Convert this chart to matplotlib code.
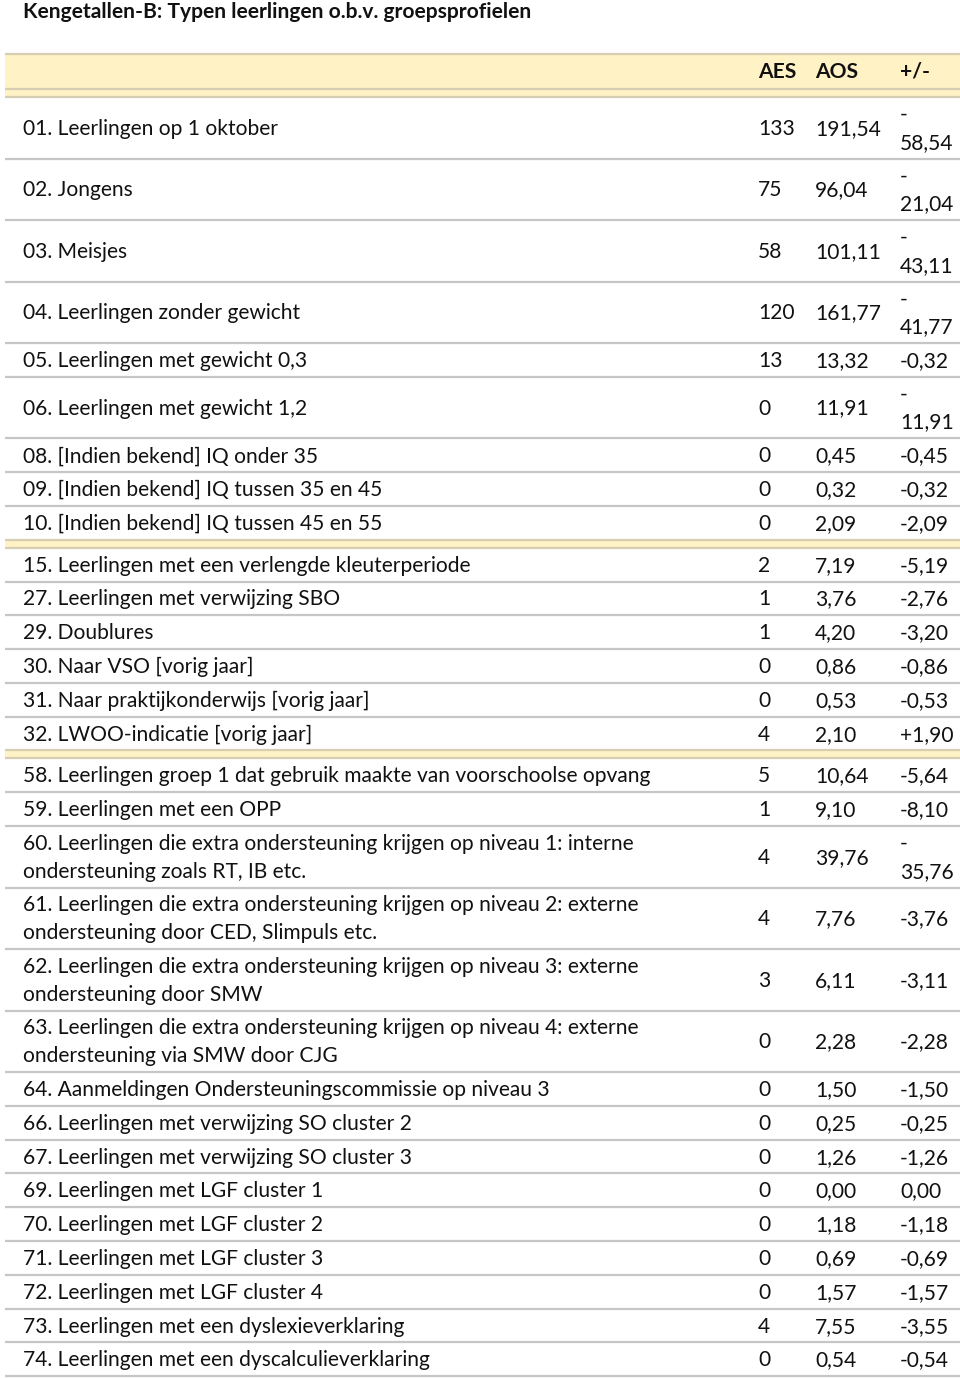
import matplotlib
matplotlib.use("Agg")
import matplotlib.pyplot as plt
from matplotlib.patches import Rectangle

title = "Kengetallen-B: Typen leerlingen o.b.v. groepsprofielen"
headers = ["AES", "AOS", "+/-"]

labels = [
    "01. Leerlingen op 1 oktober",
    "02. Jongens",
    "03. Meisjes",
    "04. Leerlingen zonder gewicht",
    "05. Leerlingen met gewicht 0,3",
    "06. Leerlingen met gewicht 1,2",
    "08. [Indien bekend] IQ onder 35",
    "09. [Indien bekend] IQ tussen 35 en 45",
    "10. [Indien bekend] IQ tussen 45 en 55",
    "15. Leerlingen met een verlengde kleuterperiode",
    "27. Leerlingen met verwijzing SBO",
    "29. Doublures",
    "30. Naar VSO [vorig jaar]",
    "31. Naar praktijkonderwijs [vorig jaar]",
    "32. LWOO-indicatie [vorig jaar]",
    "58. Leerlingen groep 1 dat gebruik maakte van voorschoolse opvang",
    "59. Leerlingen met een OPP",
    "60. Leerlingen die extra ondersteuning krijgen op niveau 1: interne\nondersteuning zoals RT, IB etc.",
    "61. Leerlingen die extra ondersteuning krijgen op niveau 2: externe\nondersteuning door CED, Slimpuls etc.",
    "62. Leerlingen die extra ondersteuning krijgen op niveau 3: externe\nondersteuning door SMW",
    "63. Leerlingen die extra ondersteuning krijgen op niveau 4: externe\nondersteuning via SMW door CJG",
    "64. Aanmeldingen Ondersteuningscommissie op niveau 3",
    "66. Leerlingen met verwijzing SO cluster 2",
    "67. Leerlingen met verwijzing SO cluster 3",
    "69. Leerlingen met LGF cluster 1",
    "70. Leerlingen met LGF cluster 2",
    "71. Leerlingen met LGF cluster 3",
    "72. Leerlingen met LGF cluster 4",
    "73. Leerlingen met een dyslexieverklaring",
    "74. Leerlingen met een dyscalculieverklaring",
]
aes = [133, 75, 58, 120, 13, 0, 0, 0, 0, 2, 1, 1, 0, 0, 4, 5, 1, 4, 4, 3, 0,
       0, 0, 0, 0, 0, 0, 0, 4, 0]
aos = [191.54, 96.04, 101.11, 161.77, 13.32, 11.91, 0.45, 0.32, 2.09, 7.19,
       3.76, 4.20, 0.86, 0.53, 2.10, 10.64, 9.10, 39.76, 7.76, 6.11, 2.28,
       1.50, 0.25, 1.26, 0.00, 1.18, 0.69, 1.57, 7.55, 0.54]
diff = [-58.54, -21.04, -43.11, -41.77, -0.32, -11.91, -0.45, -0.32, -2.09,
        -5.19, -2.76, -3.20, -0.86, -0.53, 1.90, -5.64, -8.10, -35.76, -3.76,
        -3.11, -2.28, -1.50, -0.25, -1.26, 0.00, -1.18, -0.69, -1.57, -3.55,
        -0.54]
# group separators after these row indices (yellow strips)
group_breaks = [8, 14]

def fmt(v):
    return f"{v:.2f}".replace(".", ",")

def fmt_diff(v):
    s = fmt(v)
    if v > 0:
        s = "+" + s
    if len(s) > 5:  # column too narrow -> wraps after the minus sign
        s = s[0] + "\n" + s[1:]
    return s

W, H = 960, 1378
fig = plt.figure(figsize=(W / 100, H / 100), dpi=100)
ax = fig.add_axes([0, 0, 1, 1])
ax.set_xlim(0, W)
ax.set_ylim(H, 0)
ax.axis("off")

FONT = "Lato"
FS = 15.1
LS = 1.5
YELLOW = "#FFF2C4"
TAN = "#D6CDB2"
GRAY = "#C6C6C6"
X0, X1 = 5, 960
XL, XA, XO, XD = 23, 758, 815, 900
TXT = "#111111"

ax.text(XL, 12.5, title, fontsize=FS, fontweight="bold", family=FONT,
        va="center", ha="left", color=TXT)

# header band
ax.add_patch(Rectangle((X0, 54), X1 - X0, 43, facecolor=YELLOW, edgecolor="none"))
for yy in (54, 89, 97):
    ax.plot([X0, X1], [yy, yy], color=TAN, lw=1.6, solid_capstyle="butt")
for x, h in zip((XA, XO, XD), headers):
    ax.text(x, 72, h, fontsize=FS, fontweight="bold", family=FONT,
            va="center", ha="left", color=TXT)

TALL, SHORT, SEP = 61.5, 33.8, 8
y = 97
for i, lab in enumerate(labels):
    dtxt = fmt_diff(diff[i])
    tall = ("\n" in lab) or ("\n" in dtxt)
    h = TALL if tall else SHORT
    yc = y + h / 2 + 1
    ax.text(XL, yc, lab, fontsize=FS, family=FONT, va="center", ha="left",
            color=TXT, linespacing=LS)
    ax.text(XA, yc, str(aes[i]), fontsize=FS, family=FONT, va="center",
            ha="left", color=TXT)
    ax.text(XO, yc, fmt(aos[i]), fontsize=FS, family=FONT, va="center",
            ha="left", color=TXT)
    ax.text(XD, yc, dtxt, fontsize=FS, family=FONT,
            va="center", ha="left", color=TXT, linespacing=LS)
    y += h
    if i in group_breaks:
        ax.add_patch(Rectangle((X0, y), X1 - X0, SEP, facecolor=YELLOW,
                               edgecolor="none"))
        ax.plot([X0, X1], [y, y], color=TAN, lw=1.6, solid_capstyle="butt")
        y += SEP
        ax.plot([X0, X1], [y, y], color=TAN, lw=1.6, solid_capstyle="butt")
    else:
        ax.plot([X0, X1], [y, y], color=GRAY, lw=1.6, solid_capstyle="butt")

fig.savefig("out.png", dpi=100)
